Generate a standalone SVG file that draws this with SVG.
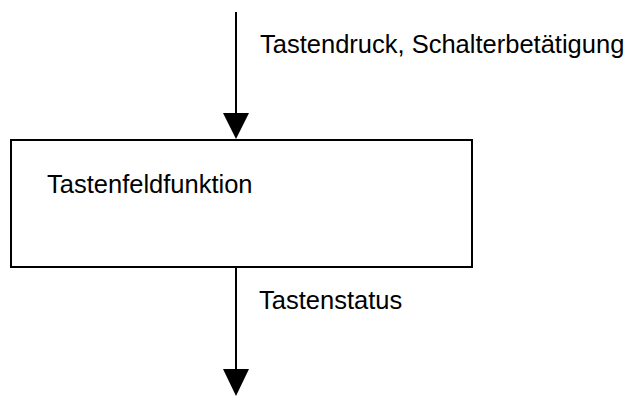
<svg xmlns="http://www.w3.org/2000/svg" width="629" height="397" viewBox="0 0 629 397">
  <style>
    .lbl { font-family: "Liberation Sans", Arial, sans-serif; font-size: 25.5px; fill: #000; }
    .edge { stroke: #000; stroke-width: 2; fill: none; }
    .head { fill: #000; stroke: none; }
    .box { fill: #fff; stroke: #000; stroke-width: 2; }
  </style>
  <rect width="629" height="397" fill="#fff"/>
  <g id="connectors">
    <line class="edge" x1="236" y1="12" x2="236" y2="114"/>
    <polygon class="head" points="223,113 249,113 236,139"/>
    <line class="edge" x1="236" y1="267" x2="236" y2="370"/>
    <polygon class="head" points="223,369 249,369 236,396"/>
    <text class="lbl" x="260" y="53">Tastendruck, Schalterbetätigung</text>
    <text class="lbl" x="259" y="309">Tastenstatus</text>
  </g>
  <g id="tastenfeldfunktion">
    <rect class="box" x="11" y="140" width="461" height="127"/>
    <text class="lbl" x="47" y="193">Tastenfeldfunktion</text>
  </g>
</svg>
